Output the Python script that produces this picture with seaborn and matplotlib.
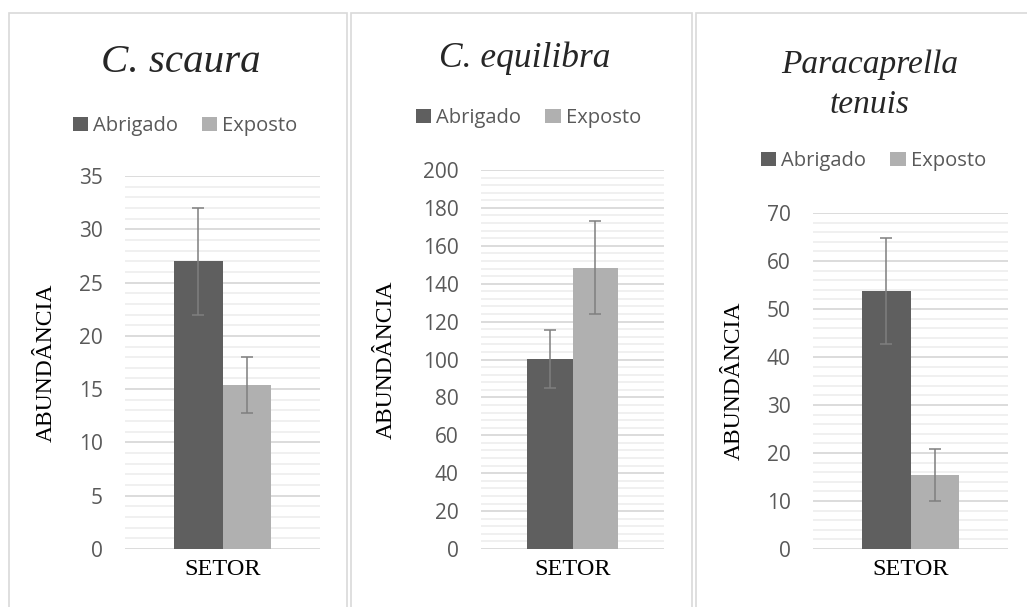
import pandas as pd
import matplotlib
matplotlib.use("Agg")
import matplotlib.pyplot as plt
import matplotlib.patches as mpatches
from matplotlib.ticker import MultipleLocator
import seaborn as sns

# ── Data ──────────────────────────────────────────────────────────────────────
species        = ["C. scaura", "C. equilibra", "Paracaprella\ntenuis"]
groups         = ["Abrigado", "Exposto"]
abrigado_mean  = [27.0, 100.5, 53.8]
abrigado_err   = [5.0, 15.3, 11.0]
exposto_mean   = [15.4, 148.4, 15.4]
exposto_err    = [2.6, 24.6, 5.5]
y_max          = [35, 200, 70]
y_major        = [5, 20, 10]
y_minor        = [1, 4, 2]

COLORS = ["#5f5f5f", "#b0b0b0"]
TXT_GRAY = "#595959"

sns.set_style("white")
plt.rcParams["font.family"] = ["Open Sans", "DejaVu Sans"]

W, H = 1027, 607
fig = plt.figure(figsize=(W / 100, H / 100), dpi=100)

def fx(x):
    return x / W

def fy(y):
    return 1 - y / H

# panel frames (pixel coords), axes boxes, title / legend positions
panels = [(9, 347), (351, 692), (696, 1040)]
axboxes = [(125, 320, 176, 549), (481, 664, 170, 549), (813, 1008, 213, 549)]
title_y = [63, 58, 85]
title_size = [29.5, 25.5, 24]
legend_y = [126, 118, 161]
ylabel_x = [57, 397, 745]

for i, sp in enumerate(species):
    px0, px1 = panels[i]
    fig.patches.append(mpatches.Rectangle((fx(px0), fy(H + 20)), fx(px1 - px0), (H + 20 - 13) / H,
                                          transform=fig.transFigure, fill=False,
                                          edgecolor="#d9d9d9", lw=1.2))

    l, r, t, b = axboxes[i]
    ax = fig.add_axes([fx(l), fy(b), fx(r - l), (b - t) / H])

    df = pd.DataFrame({
        "Setor": ["SETOR", "SETOR"],
        "Local": groups,
        "Abundancia": [abrigado_mean[i], exposto_mean[i]],
    })
    errs = [abrigado_err[i], exposto_err[i]]

    sns.barplot(data=df, x="Setor", y="Abundancia", hue="Local", hue_order=groups,
                palette=COLORS, width=0.5, errorbar=None, saturation=1, ax=ax,
                linewidth=0, zorder=3)

    for cont, err in zip(ax.containers, errs):
        for bar in cont:
            cx = bar.get_x() + bar.get_width() / 2
            ax.errorbar(cx, bar.get_height(), yerr=err, color="#7f7f7f",
                        lw=1.1, capsize=4.3, capthick=1.1, zorder=4)

    handles, labels = ax.get_legend_handles_labels()
    if ax.get_legend() is not None:
        ax.get_legend().remove()

    ax.set_xlim(-0.5, 0.5)
    ax.set_ylim(0, y_max[i])
    ax.yaxis.set_major_locator(MultipleLocator(y_major[i]))
    ax.yaxis.set_minor_locator(MultipleLocator(y_minor[i]))
    ax.grid(axis="y", which="major", color="#d9d9d9", lw=1.3, zorder=0)
    ax.grid(axis="y", which="minor", color="#efefef", lw=1.3, zorder=0)
    ax.set_axisbelow(True)
    for s in ax.spines.values():
        s.set_visible(False)

    ax.tick_params(axis="y", which="both", length=0, pad=16, labelsize=15, labelcolor=TXT_GRAY)
    ax.tick_params(axis="x", length=0, pad=7)
    for lab in ax.get_xticklabels():
        lab.set_family("Liberation Serif")
        lab.set_fontsize(17.5)
        lab.set_color("black")
    ax.set_xlabel("")
    ax.set_ylabel("ABUNDÂNCIA", family="Liberation Serif", fontsize=17, color="black")
    ax.yaxis.set_label_coords((ylabel_x[i] - l) / (r - l), 0.5)

    cx_panel = (px0 + min(px1, W + 10)) / 2 + 3
    fig.text(fx(cx_panel), fy(title_y[i]), sp, ha="center", va="center",
             family="Liberation Serif", style="italic", fontsize=title_size[i],
             linespacing=1.4)

    fig.legend(handles, labels, loc="center", bbox_to_anchor=(fx(cx_panel + 4), fy(legend_y[i])),
               ncol=2, frameon=False, fontsize=14.5, labelcolor=TXT_GRAY,
               handlelength=0.75, handleheight=0.75, handletextpad=0.25,
               columnspacing=1.2, borderaxespad=0, borderpad=0)

fig.savefig("out.png", dpi=100, facecolor="white")
